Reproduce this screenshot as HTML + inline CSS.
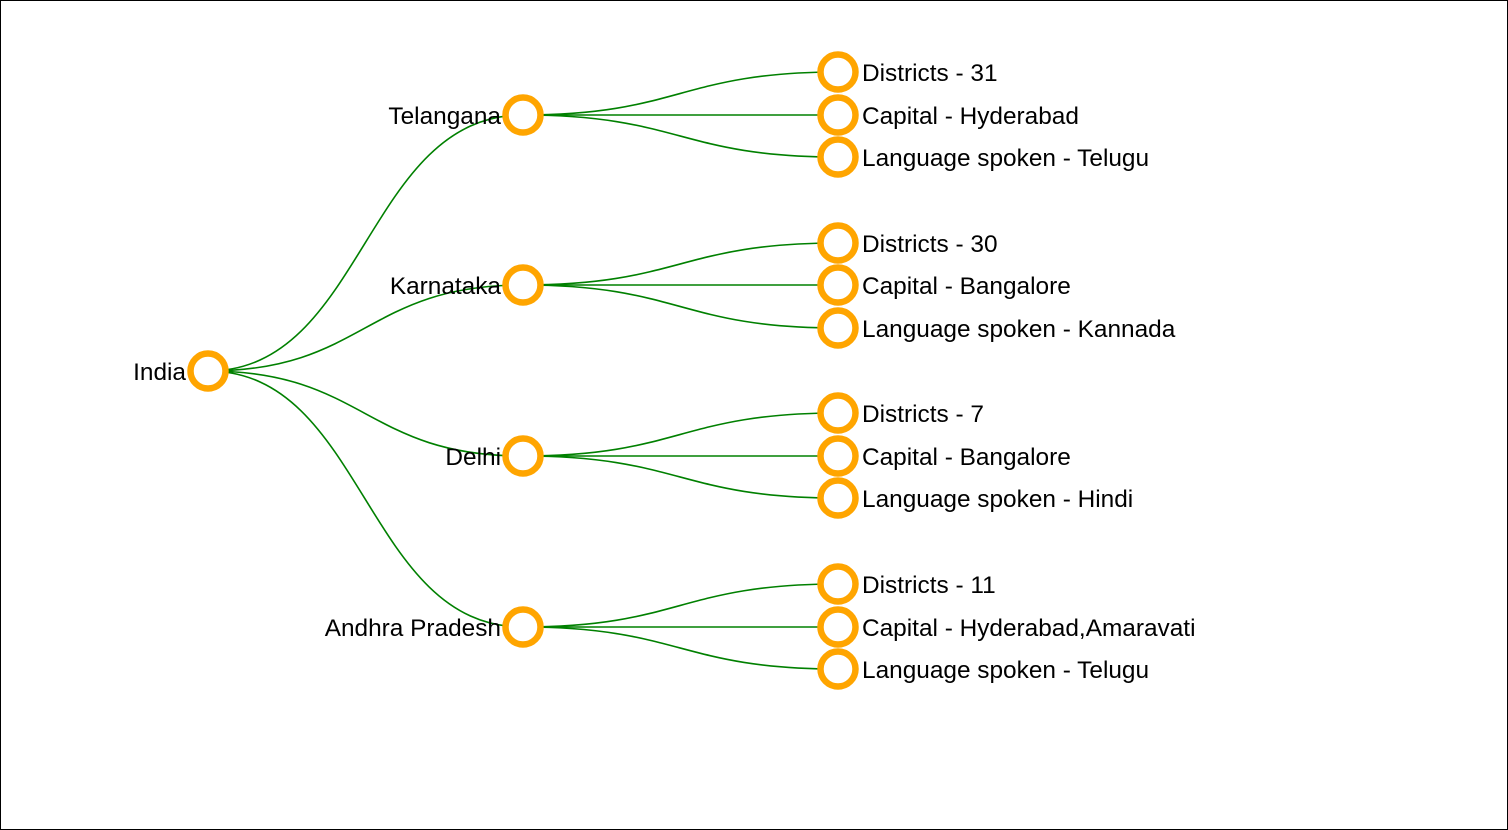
<!DOCTYPE html>
<html><head><meta charset="utf-8"><style>
html,body{margin:0;padding:0;background:#fff}
svg{display:block}
text{font-family:"Liberation Sans",Arial,sans-serif;font-size:24.4px;fill:#000}
</style></head><body>
<svg width="1508" height="830" viewBox="0 0 1508 830">
<rect x="0.5" y="0.5" width="1507" height="829" fill="#fff" stroke="#000"/>
<g fill="none" stroke="green" stroke-width="1.6">
<path d="M208,371C365,371 365,115 523,115"/>
<path d="M208,371C365,371 365,285 523,285"/>
<path d="M208,371C365,371 365,456 523,456"/>
<path d="M208,371C365,371 365,627 523,627"/>
<path d="M523,115C680,115 680,72 838,72"/><path d="M523,115L838,115"/><path d="M523,115C680,115 680,157 838,157"/>
<path d="M523,285C680,285 680,243 838,243"/><path d="M523,285L838,285"/><path d="M523,285C680,285 680,328 838,328"/>
<path d="M523,456C680,456 680,413 838,413"/><path d="M523,456L838,456"/><path d="M523,456C680,456 680,498 838,498"/>
<path d="M523,627C680,627 680,584 838,584"/><path d="M523,627L838,627"/><path d="M523,627C680,627 680,669 838,669"/>
</g>
<g fill="#fff" stroke="orange" stroke-width="6.5">
<circle cx="208" cy="371" r="17.5"/>
<circle cx="523" cy="115" r="17.5"/><circle cx="523" cy="285" r="17.5"/><circle cx="523" cy="456" r="17.5"/><circle cx="523" cy="627" r="17.5"/>
<circle cx="838" cy="72" r="17.5"/><circle cx="838" cy="115" r="17.5"/><circle cx="838" cy="157" r="17.5"/>
<circle cx="838" cy="243" r="17.5"/><circle cx="838" cy="285" r="17.5"/><circle cx="838" cy="328" r="17.5"/>
<circle cx="838" cy="413" r="17.5"/><circle cx="838" cy="456" r="17.5"/><circle cx="838" cy="498" r="17.5"/>
<circle cx="838" cy="584" r="17.5"/><circle cx="838" cy="627" r="17.5"/><circle cx="838" cy="669" r="17.5"/>
</g>
<g text-anchor="end">
<text x="186" y="380">India</text>
<text x="501" y="124">Telangana</text>
<text x="501" y="294">Karnataka</text>
<text x="501" y="465">Delhi</text>
<text x="501" y="636">Andhra Pradesh</text>
</g>
<g>
<text x="862" y="81">Districts - 31</text>
<text x="862" y="124">Capital - Hyderabad</text>
<text x="862" y="166">Language spoken - Telugu</text>
<text x="862" y="252">Districts - 30</text>
<text x="862" y="294">Capital - Bangalore</text>
<text x="862" y="337">Language spoken - Kannada</text>
<text x="862" y="422">Districts - 7</text>
<text x="862" y="465">Capital - Bangalore</text>
<text x="862" y="507">Language spoken - Hindi</text>
<text x="862" y="593">Districts - 11</text>
<text x="862" y="636">Capital - Hyderabad,Amaravati</text>
<text x="862" y="678">Language spoken - Telugu</text>
</g>
</svg>
</body></html>
